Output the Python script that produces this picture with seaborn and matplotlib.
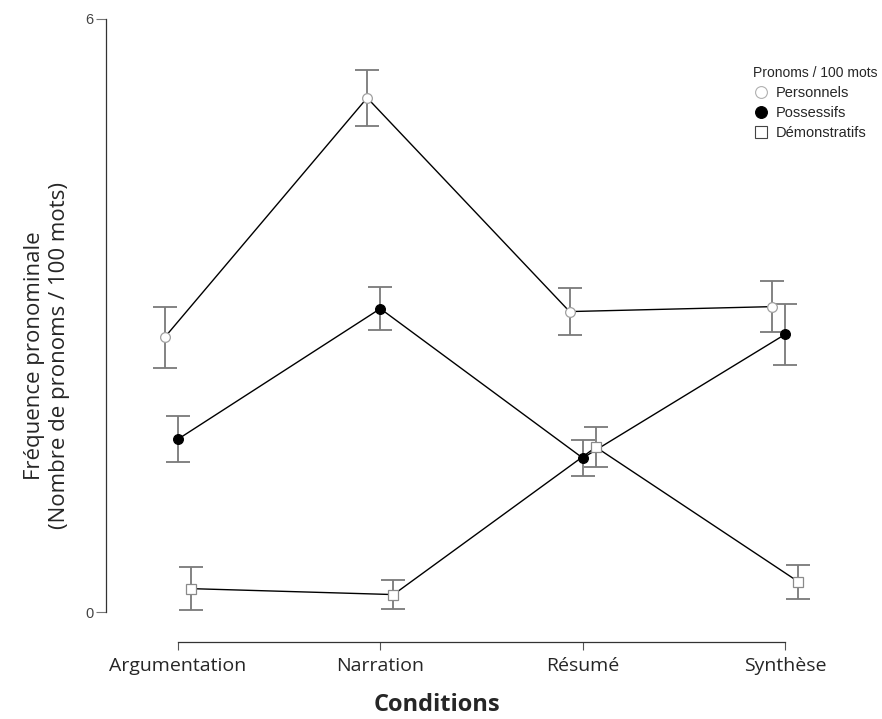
import numpy as np
import pandas as pd
import matplotlib
matplotlib.use("Agg")
import matplotlib.pyplot as plt
import seaborn as sns
from matplotlib.lines import Line2D

conditions = ["Argumentation", "Narration", "Résumé", "Synthèse"]
types = ["Personnels", "Possessifs", "Démonstratifs"]

personnels = [2.78, 5.20, 3.04, 3.09]
possessifs = [1.75, 3.07, 1.56, 2.81]
demonstratifs = [0.24, 0.18, 1.67, 0.31]

personnels_err = [0.31, 0.28, 0.24, 0.26]
possessifs_err = [0.23, 0.22, 0.18, 0.31]
demonstratifs_err = [0.22, 0.15, 0.20, 0.17]

means = {"Personnels": personnels, "Possessifs": possessifs, "Démonstratifs": demonstratifs}
errs = {"Personnels": personnels_err, "Possessifs": possessifs_err, "Démonstratifs": demonstratifs_err}

df = pd.DataFrame(
    [(c, t, means[t][i]) for t in types for i, c in enumerate(conditions)],
    columns=["Condition", "Type", "Freq"],
)

sns.set_theme(style="ticks")
plt.rcParams["font.family"] = ["DejaVu Sans"]

fig = plt.figure(figsize=(8.82, 7.19), dpi=100)
ax = fig.add_axes([0.120, 0.107, 0.862, 0.867])

sns.pointplot(
    data=df, x="Condition", y="Freq", hue="Type",
    order=conditions, hue_order=types,
    palette={t: "black" for t in types},
    markers=["o", "o", "s"], linestyles="-",
    dodge=0.13, errorbar=None, linewidth=1.0,
    markersize=7, ax=ax, legend=False,
)

faces = {"Personnels": "white", "Possessifs": "black", "Démonstratifs": "white"}
edges = {"Personnels": "#a0a0a0", "Possessifs": "black", "Démonstratifs": "#8a8a8a"}
legend_edges = {"Personnels": "#b0b0b0", "Possessifs": "black", "Démonstratifs": "#444444"}

point_lines = [ln for ln in ax.lines if len(ln.get_xdata()) == len(conditions)]
handles = []
for t, ln in zip(types, point_lines):
    ln.set_markerfacecolor(faces[t])
    ln.set_markeredgecolor(edges[t])
    ln.set_markeredgewidth(0.9)
    ln.set_zorder(3)
    xs = ln.get_xdata()
    ax.errorbar(xs, means[t], yerr=errs[t], fmt="none", ecolor="#7a7a7a",
                elinewidth=1.3, capsize=8.5, capthick=1.3, zorder=2)
    handles.append(Line2D([], [], linestyle="none", marker=ln.get_marker(),
                          markersize=8.5, markerfacecolor=faces[t],
                          markeredgecolor=legend_edges[t],
                          markeredgewidth=0.8, label=t))

ax.set_xlim(-0.356, 3.40)
ax.set_ylim(-0.30, 6.0)
ax.set_yticks([0, 6])
ax.set_yticklabels(["0", "6"], fontsize=10.5, color="#444444", family="Liberation Sans")
ax.set_xticks(range(len(conditions)))
ax.set_xticklabels(conditions, fontsize=14, family="Open Sans")
ax.tick_params(axis="y", length=7, width=0.8, color="#777777", pad=2)
ax.tick_params(axis="x", length=6, width=0.8, color="#555555", pad=5)
sns.despine(ax=ax, trim=True)
for s in ["left", "bottom"]:
    ax.spines[s].set_linewidth(0.9)
    ax.spines[s].set_color("#333333")

ax.set_xlabel("Conditions", fontsize=17, fontweight="bold", family="Open Sans")
ax.xaxis.set_label_coords(0.436, -0.082)
ax.set_ylabel("Fréquence pronominale\n(Nombre de pronoms / 100 mots)", fontsize=16,
              family="Open Sans", linespacing=1.25)
ax.yaxis.set_label_coords(-0.047, 0.46)

leg = ax.legend(handles=handles, title="Pronoms / 100 mots", loc="upper right",
                bbox_to_anchor=(1.023, 0.934), frameon=False,
                prop={"family": "Liberation Sans", "size": 10.5},
                handletextpad=0.55, labelspacing=0.42, handlelength=1.0,
                borderaxespad=0.0)
leg.get_title().set_fontfamily("Liberation Sans")
leg.get_title().set_fontsize(10)
leg._legend_box.align = "left"

fig.savefig("out.png", dpi=100)
